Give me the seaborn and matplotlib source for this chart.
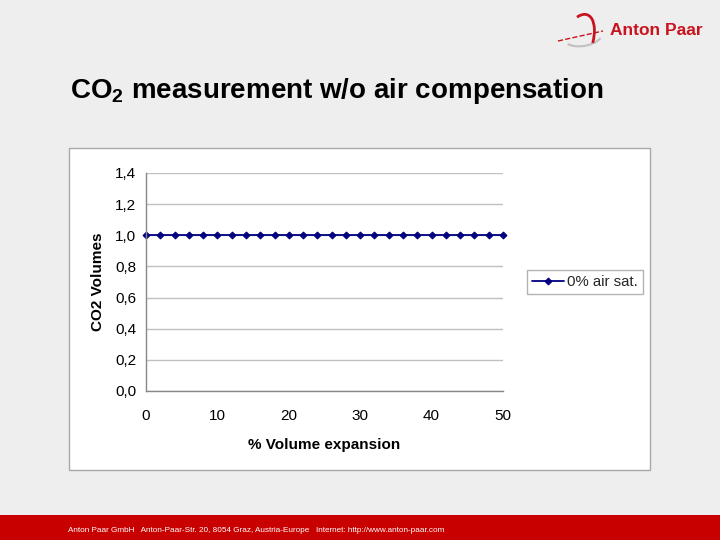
import matplotlib
matplotlib.use("Agg")
import matplotlib.pyplot as plt
import seaborn as sns
import pandas as pd
from matplotlib.patches import Rectangle, Arc

# Daten
volume_expansion = [0, 2, 4, 6, 8, 10, 12, 14, 16, 18, 20, 22, 24, 26,
                    28, 30, 32, 34, 36, 38, 40, 42, 44, 46, 48, 50]
co2_volumes = [1.0, 1.0, 1.0, 1.0, 1.0, 1.0, 1.0, 1.0, 1.0, 1.0, 1.0, 1.0, 1.0,
               1.0, 1.0, 1.0, 1.0, 1.0, 1.0, 1.0, 1.0, 1.0, 1.0, 1.0, 1.0, 1.0]
series_name = "0% air sat."
x_ticks = [0, 10, 20, 30, 40, 50]
y_ticks = [0.0, 0.2, 0.4, 0.6, 0.8, 1.0, 1.2, 1.4]
y_ticklabels = ["0,0", "0,2", "0,4", "0,6", "0,8", "1,0", "1,2", "1,4"]

sns.set_style("white")
plt.rcParams["font.family"] = ["Liberation Sans", "DejaVu Sans"]
plt.rcParams["mathtext.fontset"] = "custom"
plt.rcParams["mathtext.bf"] = "Liberation Sans:bold"
plt.rcParams["mathtext.rm"] = "Liberation Sans"

df = pd.DataFrame({"x": volume_expansion, "y": co2_volumes, "serie": series_name})

W, H = 720, 540
fig = plt.figure(figsize=(7.2, 5.4), dpi=100, facecolor="#eeeeee")

# Kasten um das Diagramm
fig.patches.append(Rectangle((69 / W, 1 - 470 / H), 581 / W, 322 / H,
                             transform=fig.transFigure, facecolor="white",
                             edgecolor="#a8a8a8", linewidth=1, zorder=-5))
# roter Fussbalken
fig.patches.append(Rectangle((0, 0), 1, 25 / H, transform=fig.transFigure,
                             facecolor="#c80000", edgecolor="none", zorder=-5))
fig.text(68 / W, 9 / H,
         "Anton Paar GmbH   Anton-Paar-Str. 20, 8054 Graz, Austria-Europe   Internet: http://www.anton-paar.com",
         color="white", fontsize=5.85, va="center", ha="left")

# Titel
fig.text(70 / W, 1 - 91 / H, r"CO$_\mathbf{2}$ measurement w/o air compensation",
         fontsize=20, fontweight="bold", color="black", va="center", ha="left")

# Logo
fig.text(610 / W, 1 - 31 / H, "Anton Paar", fontsize=12.5, fontweight="bold",
         color="#c8141e", va="center", ha="left")
lax = fig.add_axes([553 / W, 1 - 55 / H, 55 / W, 45 / H])
lax.set_xlim(0, 55)
lax.set_ylim(0, 45)
lax.axis("off")
lax.add_patch(Arc((30, 20), 40, 22, angle=10, theta1=200, theta2=340,
                  color="#c0c0c0", lw=1.5))
lax.add_patch(Arc((24, 12), 30, 60, angle=-20, theta1=20, theta2=110,
                  color="#c8141e", lw=2))
lax.plot([5, 50], [14, 24], color="#c8141e", lw=1, ls="--")

# Diagramm
ax = fig.add_axes([146 / W, 1 - 391 / H, 357 / W, 218 / H])
sns.lineplot(data=df, x="x", y="y", hue="serie", palette=["#000080"],
             marker="D", markersize=3.5, markeredgecolor="#000080",
             linewidth=1.3, clip_on=False, ax=ax)

ax.set_xlim(0, 50)
ax.set_ylim(0, 1.4)
ax.set_xticks(x_ticks)
ax.set_yticks(y_ticks)
ax.set_yticklabels(y_ticklabels)
ax.tick_params(axis="both", labelsize=11, length=4, direction="out",
               color="#888888", labelcolor="black")
ax.tick_params(axis="x", pad=9)
ax.tick_params(axis="y", pad=3)
ax.grid(axis="y", color="#c0c0c0", linewidth=1)
ax.set_axisbelow(True)
for side in ["top", "right"]:
    ax.spines[side].set_visible(False)
for side in ["left", "bottom"]:
    ax.spines[side].set_color("#888888")
    ax.spines[side].set_linewidth(1)
ax.set_facecolor("white")

ax.set_xlabel("% Volume expansion", fontsize=11, fontweight="bold",
              color="black", labelpad=11)
ax.set_ylabel("CO2 Volumes", fontsize=11, fontweight="bold",
              color="black", labelpad=7)

leg = ax.legend(loc="center left", bbox_to_anchor=(527 / W, 1 - 282 / H),
                bbox_transform=fig.transFigure, fontsize=10.8, frameon=True,
                fancybox=False, edgecolor="#a0a0a0", handlelength=2.1,
                handletextpad=0.2, borderpad=0.35, borderaxespad=0)
leg.get_frame().set_linewidth(1)

fig.savefig("out.png", dpi=100, facecolor=fig.get_facecolor())
